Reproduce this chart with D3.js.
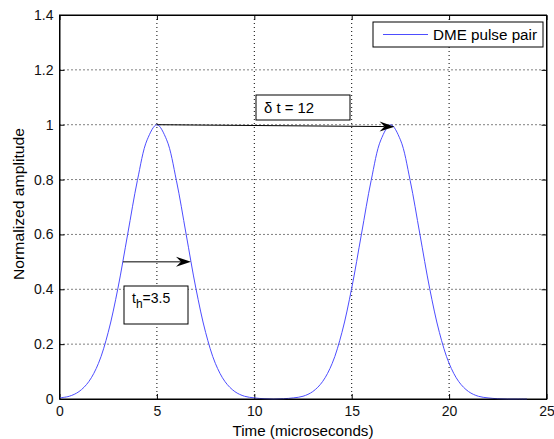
<!DOCTYPE html>
<html><head><meta charset="utf-8">
<script src="https://cdn.jsdelivr.net/npm/d3@7"></script>
<style>body{margin:0;background:#fff}svg{display:block}text{font-family:"Liberation Sans",Arial,sans-serif}</style>
</head><body><svg id="c" width="554" height="439"></svg>
<script>
const timeUs = [0,0.5,1,1.5,2,2.5,3,3.5,4,4.5,5,5.5,6,6.5,7,7.5,8,8.5,9,9.5,10,10.5,11,11.5,12,12.5,13,13.5,14,14.5,15,15.5,16,16.5,17,17.5,18,18.5,19,19.5,20,20.5,21,21.5,22,22.5,23,23.5,24];
const amplitude = [0.004,0.010,0.027,0.063,0.130,0.243,0.404,0.601,0.797,0.945,1.000,0.945,0.797,0.601,0.404,0.243,0.130,0.063,0.027,0.010,0.004,0.001,0.000,0.001,0.004,0.010,0.027,0.063,0.130,0.243,0.404,0.601,0.797,0.945,1.000,0.945,0.797,0.601,0.404,0.243,0.130,0.063,0.027,0.010,0.004,0.001,0.000,0.000,0.000];
const xTicks = [0,5,10,15,20,25];
const yTicks = [0,0.2,0.4,0.6,0.8,1,1.2,1.4];
const seriesName = "DME pulse pair";
const xLabel = "Time (microseconds)";
const yLabel = "Normalized amplitude";
const deltaArrow = {x1:5, y1:1.0, x2:17.2, y2:0.993, label:"δ t = 12"};
const halfArrow = {x1:3.25, y1:0.5, x2:6.75, y2:0.5, label:"3.5"};

const svg = d3.select("#c");
const L=59.5, R=546.5, T=15, B=399;
const x = d3.scaleLinear().domain([0,25]).range([L,R]);
const y = d3.scaleLinear().domain([0,1.4]).range([B,T]);

// grid
const g = svg.append("g");
xTicks.slice(1,-1).forEach(t=>g.append("line").attr("x1",x(t)).attr("x2",x(t)).attr("y1",T).attr("y2",B)
  .attr("stroke","#000").attr("stroke-width",1).attr("stroke-dasharray","1,3"));
yTicks.slice(1,-1).forEach(t=>g.append("line").attr("x1",L).attr("x2",R).attr("y1",y(t)).attr("y2",y(t))
  .attr("stroke","#000").attr("stroke-width",1).attr("stroke-dasharray","1,3"));

// axes
const fmt = d=>String(d);
const ax = svg.append("g").attr("transform",`translate(0,${B})`).call(d3.axisBottom(x).tickValues(xTicks).tickFormat(fmt).tickSizeInner(-5).tickSizeOuter(0).tickPadding(7));
const axT = svg.append("g").attr("transform",`translate(0,${T})`).call(d3.axisTop(x).tickValues(xTicks).tickFormat("").tickSizeInner(-5).tickSizeOuter(0));
const ay = svg.append("g").attr("transform",`translate(${L},0)`).call(d3.axisLeft(y).tickValues(yTicks).tickFormat(fmt).tickSizeInner(-5).tickSizeOuter(0).tickPadding(6));
const ayR = svg.append("g").attr("transform",`translate(${R},0)`).call(d3.axisRight(y).tickValues(yTicks).tickFormat("").tickSizeInner(-5).tickSizeOuter(0));
[ax,axT,ay,ayR].forEach(a=>{a.select(".domain").attr("stroke","#000");a.selectAll("line").attr("stroke","#000");
  a.selectAll("text").attr("font-size",14).attr("fill","#111").attr("font-family","Liberation Sans, Arial, sans-serif");});
ax.selectAll("text").attr("dy","0.71em");

// curve
svg.append("path").datum(timeUs.map((t,i)=>[t,amplitude[i]]))
  .attr("d",d3.line().x(d=>x(d[0])).y(d=>y(d[1])).curve(d3.curveCatmullRom))
  .attr("fill","none").attr("stroke","#4d4dff").attr("stroke-width",1);

// box
svg.append("rect").attr("x",L).attr("y",T).attr("width",R-L).attr("height",B-T).attr("fill","none").attr("stroke","#000");

// labels
svg.append("text").attr("x",(L+R)/2).attr("y",436).attr("text-anchor","middle").attr("font-size",14)
  .attr("textLength",141).attr("lengthAdjust","spacingAndGlyphs").text(xLabel);
svg.append("text").attr("transform",`translate(24,204) rotate(-90)`).attr("text-anchor","middle").attr("font-size",14)
  .attr("textLength",152).attr("lengthAdjust","spacingAndGlyphs").text(yLabel);

// legend
svg.append("rect").attr("x",373).attr("y",22).attr("width",170).attr("height",25).attr("fill","#fff").attr("stroke","#000");
svg.append("line").attr("x1",383).attr("x2",428).attr("y1",34.5).attr("y2",34.5).attr("stroke","#4d4dff");
svg.append("text").attr("x",433).attr("y",40).attr("font-size",14)
  .attr("textLength",104).attr("lengthAdjust","spacingAndGlyphs").text(seriesName);

// arrows
function arrow(a){
  const x1=x(a.x1),y1=y(a.y1),x2=x(a.x2),y2=y(a.y2);
  const ang=Math.atan2(y2-y1,x2-x1), len=15, hw=5, back=10;
  svg.append("line").attr("x1",x1).attr("y1",y1).attr("x2",x2-back*Math.cos(ang)).attr("y2",y2-back*Math.sin(ang)).attr("stroke","#000");
  const p=(dx,dy)=>[x2+dx*Math.cos(ang)-dy*Math.sin(ang), y2+dx*Math.sin(ang)+dy*Math.cos(ang)];
  const pts=[p(0,0),p(-len,-hw),p(-back,0),p(-len,hw)];
  svg.append("path").attr("d","M"+pts.map(q=>q.join(",")).join("L")+"Z").attr("fill","#000");
}
arrow(deltaArrow);
arrow(halfArrow);

// annotation boxes
svg.append("rect").attr("x",256).attr("y",95).attr("width",94).attr("height",25).attr("fill","#fff").attr("stroke","#000");
svg.append("text").attr("x",264).attr("y",113).attr("font-size",14)
  .attr("textLength",50).attr("lengthAdjust","spacingAndGlyphs").text(deltaArrow.label);
svg.append("rect").attr("x",124).attr("y",286).attr("width",64).attr("height",38).attr("fill","#fff").attr("stroke","#000");
const th = svg.append("text").attr("x",132).attr("y",303).attr("font-size",14);
th.append("tspan").text("t");
th.append("tspan").attr("dy",5).attr("font-size",12).text("h");
th.append("tspan").attr("dy",-5).text("=" + halfArrow.label);
</script></body></html>
